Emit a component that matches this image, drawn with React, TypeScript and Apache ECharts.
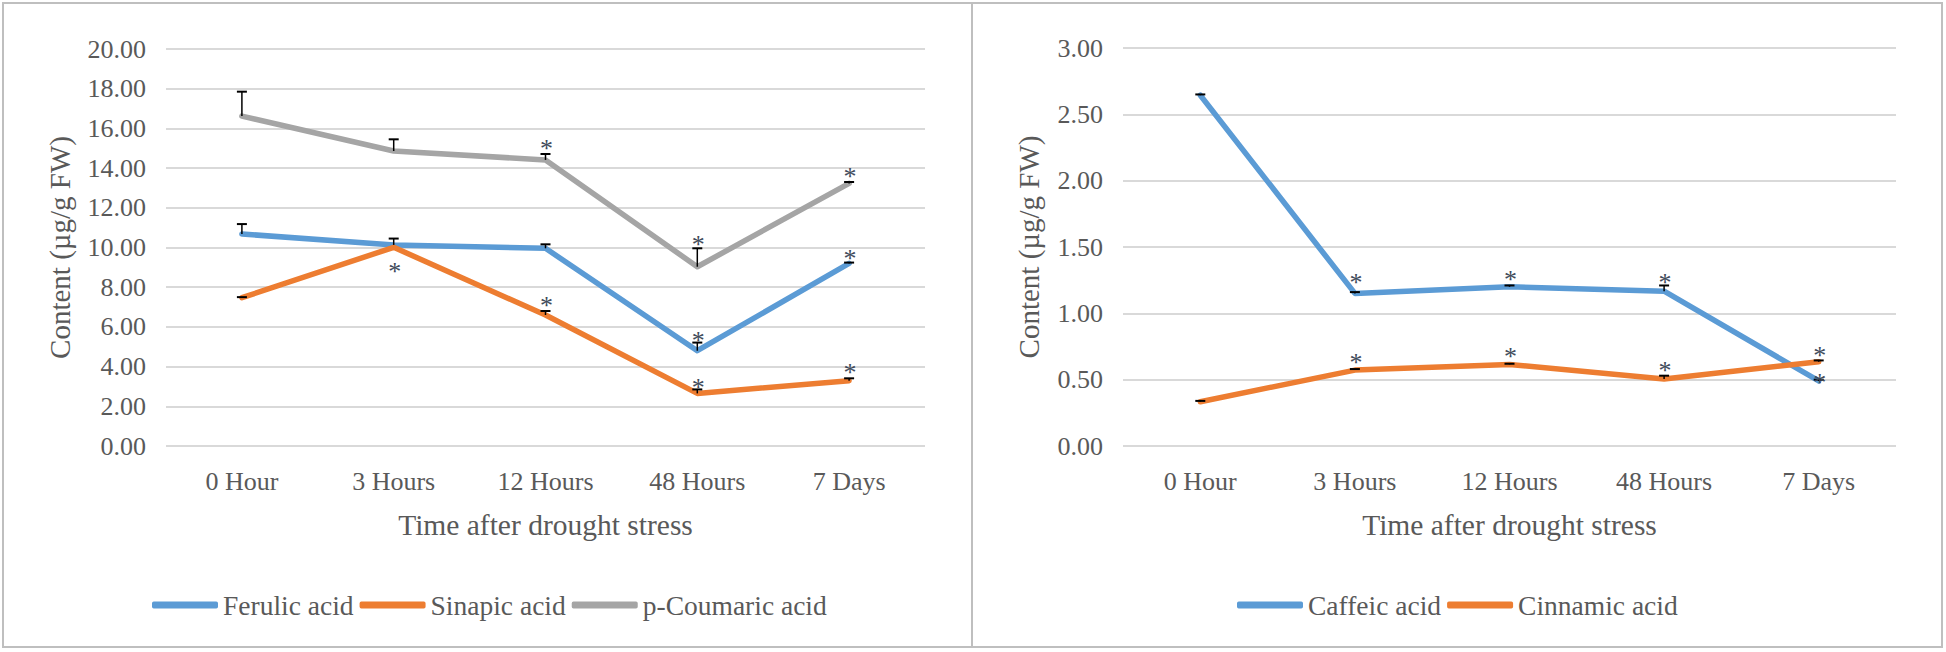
import React, { useEffect, useRef } from "react";
import * as echarts from "echarts";

const categories = ["0 Hour", "3 Hours", "12 Hours", "48 Hours", "7 Days"];

// Left panel
const ferulic = [10.68, 10.13, 9.96, 4.8, 9.2];
const ferulicErrTop = [11.18, 10.45, 10.16, 5.21, 9.24];
const ferulicStar = [null, null, null, 5.63, 9.74];

const sinapic = [7.47, 10.01, 6.6, 2.65, 3.29];
const sinapicErrTop = [7.5, 10.01, 6.8, 2.85, 3.41];
const sinapicStar = [null, 9.07, 7.36, 3.27, 4.03];

const coumaric = [16.62, 14.86, 14.41, 9.03, 13.23];
const coumaricErrTop = [17.85, 15.45, 14.71, 9.96, 13.3];
const coumaricStar = [null, null, 15.28, 10.46, 13.9];

// Right panel
const caffeic = [2.644, 1.15, 1.2, 1.167, 0.49];
const caffeicErrTop = [2.65, 1.16, 1.21, 1.21, 0.5];
const caffeicStar = [null, 1.275, 1.3, 1.28, 0.522];

const cinnamic = [0.334, 0.572, 0.615, 0.505, 0.635];
const cinnamicErrTop = [0.34, 0.58, 0.62, 0.53, 0.645];
const cinnamicStar = [null, 0.678, 0.723, 0.615, 0.728];

const leftTicks = { min: 0, max: 20, interval: 2 };
const rightTicks = { min: 0, max: 3, interval: 0.5 };

const BLUE = "#5B9BD5";
const ORANGE = "#ED7D31";
const GRAY = "#A5A5A5";
const TEXT = "#595959";
const FONT = "'Liberation Serif', 'Times New Roman', serif";

function lineSeries(name: string, data: number[], color: string, idx: number) {
  return {
    type: "line",
    name,
    data,
    xAxisIndex: idx,
    yAxisIndex: idx,
    symbol: "none",
    lineStyle: { color, width: 5.5, cap: "round", join: "round" },
    itemStyle: { color },
    z: 2,
  };
}

function errSeries(vals: number[], tops: number[], idx: number) {
  return {
    type: "custom",
    xAxisIndex: idx,
    yAxisIndex: idx,
    data: vals.map((v, i) => [i, v, tops[i]]),
    z: 5,
    silent: true,
    renderItem: (params: any, api: any) => {
      const p = api.coord([api.value(0), api.value(1)]);
      const t = api.coord([api.value(0), api.value(2)]);
      if (Math.abs(p[1] - t[1]) < 0.5) return { type: "group", children: [] };
      return {
        type: "group",
        children: [
          {
            type: "line",
            shape: { x1: p[0], y1: p[1], x2: p[0], y2: t[1] },
            style: { stroke: "#000", lineWidth: 1.5 },
          },
          {
            type: "line",
            shape: { x1: p[0] - 5, y1: t[1], x2: p[0] + 5, y2: t[1] },
            style: { stroke: "#000", lineWidth: 2 },
          },
        ],
      };
    },
  };
}

function starSeries(stars: (number | null)[], idx: number) {
  const data = stars
    .map((s, i) => (s === null ? null : [i, s]))
    .filter((d) => d !== null);
  return {
    type: "custom",
    xAxisIndex: idx,
    yAxisIndex: idx,
    data,
    z: 6,
    silent: true,
    renderItem: (params: any, api: any) => {
      const p = api.coord([api.value(0), api.value(1)]);
      return {
        type: "text",
        x: p[0] + 1,
        y: p[1] + 6,
        style: {
          text: "*",
          fill: "#404a5a",
          font: `26px ${FONT}`,
          align: "center",
          verticalAlign: "middle",
        },
      };
    },
  };
}

export default function App() {
  const ref = useRef<HTMLDivElement>(null);
  useEffect(() => {
    if (!ref.current) return;
    const chart = echarts.init(ref.current, undefined, { renderer: "svg" });
    const axisCommon = (idx: number) => ({
      type: "category",
      gridIndex: idx,
      data: categories,
      boundaryGap: true,
      axisLine: { show: false },
      axisTick: { show: false },
      axisLabel: { color: TEXT, fontSize: 26, fontFamily: FONT, margin: 22 },
      name: "Time after drought stress",
      nameLocation: "middle",
      nameGap: 64,
      nameTextStyle: { color: TEXT, fontSize: 29.5, fontFamily: FONT },
    });
    const yCommon = (idx: number, ticks: any, gap: number) => ({
      type: "value",
      gridIndex: idx,
      min: ticks.min,
      max: ticks.max,
      interval: ticks.interval,
      axisLine: { show: false },
      axisTick: { show: false },
      splitLine: { lineStyle: { color: "#d9d9d9", width: 2 } },
      axisLabel: {
        color: TEXT,
        fontSize: 26,
        fontFamily: FONT,
        margin: 20,
        formatter: (v: number) => v.toFixed(2),
      },
      name: "Content (µg/g FW)",
      nameLocation: "middle",
      nameGap: gap,
      nameTextStyle: { color: TEXT, fontSize: 29, fontFamily: FONT },
    });
    const legendCommon = {
      orient: "horizontal",
      top: 590,
      padding: 0,
      itemWidth: 66,
      itemHeight: 7,
      itemGap: 6,
      icon: "roundRect",
      textStyle: { color: TEXT, fontSize: 27.5, fontFamily: FONT, lineHeight: 30 },
    };
    chart.setOption({
      animation: false,
      backgroundColor: "#ffffff",
      grid: [
        { left: 166, top: 49, width: 759, height: 397 },
        { left: 1123, top: 48, width: 773, height: 398 },
      ],
      xAxis: [axisCommon(0), axisCommon(1)],
      yAxis: [yCommon(0, leftTicks, 92), yCommon(1, rightTicks, 80)],
      legend: [
        {
          ...legendCommon,
          left: 152,
          data: ["Ferulic acid", "Sinapic acid", "p-Coumaric acid"],
        },
        {
          ...legendCommon,
          left: 1237,
          data: ["Caffeic acid", "Cinnamic acid"],
        },
      ],
      graphic: [
        {
          type: "rect",
          shape: { x: 3, y: 3, width: 1939, height: 644 },
          style: { fill: "none", stroke: "#bfbfbf", lineWidth: 2 },
          silent: true,
        },
        {
          type: "line",
          shape: { x1: 972, y1: 3, x2: 972, y2: 647 },
          style: { stroke: "#bfbfbf", lineWidth: 2 },
          silent: true,
        },
      ],
      series: [
        lineSeries("Ferulic acid", ferulic, BLUE, 0),
        lineSeries("Sinapic acid", sinapic, ORANGE, 0),
        lineSeries("p-Coumaric acid", coumaric, GRAY, 0),
        lineSeries("Caffeic acid", caffeic, BLUE, 1),
        lineSeries("Cinnamic acid", cinnamic, ORANGE, 1),
        errSeries(ferulic, ferulicErrTop, 0),
        errSeries(sinapic, sinapicErrTop, 0),
        errSeries(coumaric, coumaricErrTop, 0),
        errSeries(caffeic, caffeicErrTop, 1),
        errSeries(cinnamic, cinnamicErrTop, 1),
        starSeries(ferulicStar, 0),
        starSeries(sinapicStar, 0),
        starSeries(coumaricStar, 0),
        starSeries(caffeicStar, 1),
        starSeries(cinnamicStar, 1),
      ],
    });
    return () => chart.dispose();
  }, []);
  return (
    <div
      ref={ref}
      style={{ position: "absolute", left: 0, top: 0, width: 1946, height: 652 }}
    />
  );
}
